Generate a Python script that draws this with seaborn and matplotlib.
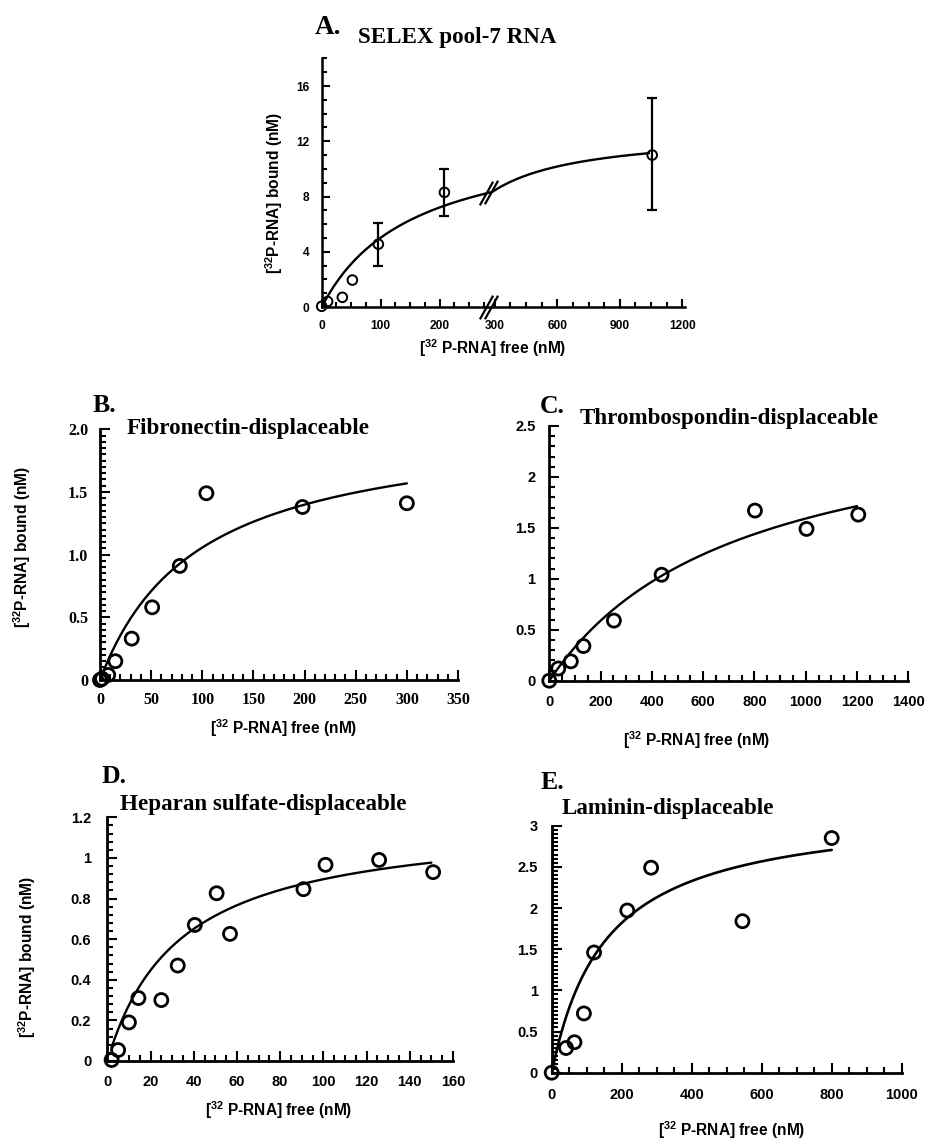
import numpy as np
import pandas as pd
import matplotlib
matplotlib.use("Agg")
import matplotlib.pyplot as plt
import seaborn as sns
from matplotlib.ticker import FixedLocator, MultipleLocator

# ---------------- data ----------------
# Panel A: SELEX pool-7 RNA
a_free = [0, 10, 35, 52, 96, 208, 1055]
a_bound = [0.05, 0.4, 0.7, 1.95, 4.55, 8.3, 11.0]
a_err_free = [96, 208, 1055]
a_err_center = [4.55, 8.3, 11.0]
a_err_low = [3.0, 6.6, 7.0]
a_err_high = [6.1, 10.0, 15.1]
a_bmax, a_kd, a_fit_range = 12.8, 155.0, (0, 1040)
a_xticks = [0, 100, 200, 300, 600, 900, 1200]
a_yticks = [0, 4, 8, 12, 16]

# Panel B: Fibronectin-displaceable
b_free = [0, 2, 8, 15, 31, 51, 78, 104, 198, 300]
b_bound = [0.0, 0.01, 0.04, 0.15, 0.33, 0.58, 0.91, 1.49, 1.38, 1.41]
b_bmax, b_kd, b_fit_range = 2.07, 95.9, (3, 300)
b_xticks = [0, 50, 100, 150, 200, 250, 300, 350]
b_yticks = [0, 0.5, 1.0, 1.5, 2.0]
b_ylabels = ["0", "0.5", "1.0", "1.5", "2.0"]

# Panel C: Thrombospondin-displaceable
c_free = [0, 35, 84, 133, 252, 438, 802, 1003, 1205]
c_bound = [0.0, 0.12, 0.19, 0.34, 0.59, 1.04, 1.67, 1.49, 1.63]
c_bmax, c_kd, c_fit_range = 2.77, 740.0, (0, 1200)
c_xticks = [0, 200, 400, 600, 800, 1000, 1200, 1400]
c_yticks = [0, 0.5, 1, 1.5, 2, 2.5]
c_ylabels = ["0", "0.5", "1", "1.5", "2", "2.5"]

# Panel D: Heparan sulfate-displaceable
d_free = [2, 5, 10, 14.4, 25, 32.6, 40.5, 50.6, 56.8, 90.8, 101, 125.8, 150.8]
d_bound = [0.005, 0.054, 0.19, 0.31, 0.30, 0.47, 0.67, 0.826, 0.626, 0.846, 0.966, 0.99, 0.93]
d_bmax, d_kd, d_fit_range = 1.195, 33.5, (2, 150)
d_xticks = [0, 20, 40, 60, 80, 100, 120, 140, 160]
d_yticks = [0, 0.2, 0.4, 0.6, 0.8, 1.0, 1.2]
d_ylabels = ["0", "0.2", "0.4", "0.6", "0.8", "1", "1.2"]

# Panel E: Laminin-displaceable
e_free = [0, 41, 65, 92, 121, 216, 284, 545, 800]
e_bound = [0.0, 0.30, 0.37, 0.72, 1.46, 1.97, 2.49, 1.84, 2.85]
e_bmax, e_kd, e_fit_range = 3.23, 155.0, (5, 800)
e_xticks = [0, 200, 400, 600, 800, 1000]
e_yticks = [0, 0.5, 1, 1.5, 2, 2.5, 3]
e_ylabels = ["0", "0.5", "1", "1.5", "2", "2.5", "3"]

titles = ["SELEX pool-7 RNA", "Fibronectin-displaceable", "Thrombospondin-displaceable",
          "Heparan sulfate-displaceable", "Laminin-displaceable"]
letters = ["A.", "B.", "C.", "D.", "E."]
xlab = r"[$^{32}$ P-RNA] free (nM)"
ylab = r"[$^{32}$P-RNA] bound (nM)"

# ---------------- style ----------------
sns.set_theme(style="ticks")
plt.rcParams.update({
    "font.family": ["Liberation Sans", "DejaVu Sans"],
    "font.weight": "bold",
    "axes.labelweight": "bold",
    "mathtext.fontset": "custom",
    "mathtext.rm": "Liberation Sans:bold",
    "mathtext.it": "Liberation Sans:bold",
    "mathtext.bf": "Liberation Sans:bold",
    "mathtext.default": "rm",
    "axes.edgecolor": "black",
    "axes.labelcolor": "black",
    "text.color": "black",
    "xtick.color": "black",
    "ytick.color": "black",
})

W, H = 927, 1142
fig = plt.figure(figsize=(W / 100, H / 100), dpi=100)


def add_axes_px(left, right, top, bottom):
    return fig.add_axes([left / W, 1 - bottom / H, (right - left) / W, (bottom - top) / H])


def hyperbola(bmax, kd, rng, n=200):
    x = np.linspace(rng[0], rng[1], n)
    return x, bmax * x / (kd + x)


def style(ax, lw=2.0, pad=9, majlen=7, minlen=4):
    for s in ["top", "right"]:
        ax.spines[s].set_visible(False)
    for s in ["left", "bottom"]:
        ax.spines[s].set_linewidth(lw)
        ax.spines[s].set_color("black")
    ax.tick_params(which="both", direction="in", width=1.5, color="black",
                   top=False, right=False, left=True, bottom=True)
    ax.tick_params(which="major", length=majlen, pad=pad)
    ax.tick_params(which="minor", length=minlen)


def draw_panel(ax, fx, fy, fit, ms, mlw, clw=1.7):
    cx, cy = fit
    sns.lineplot(x=cx, y=cy, ax=ax, color="black", lw=clw, sort=False)
    sns.scatterplot(x=fx, y=fy, ax=ax, marker="o", s=ms, facecolors="none",
                    edgecolor="black", linewidth=mlw, clip_on=False, zorder=5)


def put_titles(ax, i, lx, ly, tx, ty, lsize=18.5):
    ax.text(lx, ly, letters[i], transform=ax.transAxes, family="Liberation Serif",
            weight="bold", fontsize=lsize, ha="left", va="baseline")
    ax.text(tx, ty, titles[i], transform=ax.transAxes, family="Liberation Serif",
            weight="bold", fontsize=16.6, ha="left", va="baseline")


def set_labels(ax, xl_pos, yl_pos=None, size=11.2):
    ax.set_xlabel(xlab, fontsize=size, fontweight="bold", va="center", ha="center")
    ax.xaxis.set_label_coords(*xl_pos)
    if yl_pos is not None:
        ax.set_ylabel(ylab, fontsize=size, fontweight="bold", va="center", ha="center")
        ax.yaxis.set_label_coords(*yl_pos)
    else:
        ax.set_ylabel("")


# ---------------- Panel A (broken x axis) ----------------
BRK, K = 289.0, 0.354


def fwd(x):
    x = np.asarray(x, float)
    return np.where(x <= BRK, x, BRK + (x - BRK) * K)


def inv(u):
    u = np.asarray(u, float)
    return np.where(u <= BRK, u, BRK + (u - BRK) / K)


axA = add_axes_px(321.7, 685, 58.4, 307)
axA.set_xscale("function", functions=(fwd, inv))
draw_panel(axA, a_free, a_bound, hyperbola(a_bmax, a_kd, a_fit_range, 400), 48, 1.4)
axA.errorbar(a_err_free, a_err_center,
             yerr=[np.subtract(a_err_center, a_err_low), np.subtract(a_err_high, a_err_center)],
             fmt="none", ecolor="black", elinewidth=1.6, capsize=3.5, capthick=1.6, zorder=4)
axA.set_xlim(0, 1212)
axA.set_ylim(0, 18)
style(axA, lw=1.8, pad=9, majlen=6, minlen=3.5)
axA.set_xticks(a_xticks, [str(t) for t in a_xticks], fontsize=8.6, fontweight="bold")
axA.xaxis.set_minor_locator(FixedLocator([25, 50, 75, 125, 150, 175, 225, 250, 275,
                                          375, 450, 525, 675, 750, 825, 975, 1050, 1125]))
axA.set_yticks(a_yticks, [str(t) for t in a_yticks], fontsize=8.6, fontweight="bold")
axA.yaxis.set_minor_locator(MultipleLocator(1))
# break marks on the axis and on the curve
brk_marker = [(-0.28, -0.5), (0.28, 0.5)]
for bx in (279, 287):
    axA.plot([bx], [0], ls="none", marker=brk_marker, ms=17, mec="black", mew=1.6,
             clip_on=False, zorder=6)
    axA.plot([bx], [a_bmax * bx / (a_kd + bx)], ls="none", marker=brk_marker, ms=17,
             mec="black", mew=1.6, clip_on=False, zorder=6)
set_labels(axA, (0.4715, -0.165), (-0.131, 0.458))
put_titles(axA, 0, -0.018, 1.100, 0.100, 1.060, lsize=19.5)

# ---------------- Panel B ----------------
MS, MLW = 88, 2.0
axB = add_axes_px(100, 458, 429.3, 680)
draw_panel(axB, b_free, b_bound, hyperbola(b_bmax, b_kd, b_fit_range), MS, MLW)
axB.set_xlim(0, 350)
axB.set_ylim(0, 2.0)
style(axB, pad=8.5)
axB.set_xticks(b_xticks, [str(t) for t in b_xticks], fontsize=11.5, fontweight="bold",
               fontfamily="Liberation Serif")
axB.xaxis.set_minor_locator(MultipleLocator(10))
axB.set_yticks(b_yticks, b_ylabels, fontsize=11.5, fontweight="bold", fontfamily="Liberation Serif")
axB.yaxis.set_minor_locator(MultipleLocator(0.05))
set_labels(axB, (0.514, -0.191), (-0.218, 0.53))
put_titles(axB, 1, -0.02, 1.069, 0.075, 0.981)

# ---------------- Panel C ----------------
axC = add_axes_px(549.3, 908.3, 426, 680.7)
draw_panel(axC, c_free, c_bound, hyperbola(c_bmax, c_kd, c_fit_range), MS, MLW)
axC.set_xlim(0, 1400)
axC.set_ylim(0, 2.5)
style(axC, pad=10)
axC.set_xticks(c_xticks, [str(t) for t in c_xticks], fontsize=10.5, fontweight="bold")
axC.xaxis.set_minor_locator(MultipleLocator(50))
axC.set_yticks(c_yticks, c_ylabels, fontsize=10.5, fontweight="bold")
axC.yaxis.set_minor_locator(MultipleLocator(0.1))
set_labels(axC, (0.411, -0.233))
put_titles(axC, 2, -0.026, 1.050, 0.0855, 1.007)

# ---------------- Panel D ----------------
axD = add_axes_px(107.3, 453, 817.3, 1061)
draw_panel(axD, d_free, d_bound, hyperbola(d_bmax, d_kd, d_fit_range), MS, MLW)
axD.set_xlim(0, 160)
axD.set_ylim(0, 1.2)
style(axD, pad=10)
axD.set_xticks(d_xticks, [str(t) for t in d_xticks], fontsize=10.5, fontweight="bold")
axD.xaxis.set_minor_locator(MultipleLocator(5))
axD.set_yticks(d_yticks, d_ylabels, fontsize=10.5, fontweight="bold")
axD.yaxis.set_minor_locator(MultipleLocator(0.04))
axD.tick_params(axis="y", which="major", pad=11.5)
set_labels(axD, (0.497, -0.201), (-0.232, 0.427))
put_titles(axD, 3, -0.016, 1.142, 0.037, 1.030)

# ---------------- Panel E ----------------
axE = add_axes_px(551.7, 901.7, 825.7, 1072.7)
draw_panel(axE, e_free, e_bound, hyperbola(e_bmax, e_kd, e_fit_range), MS, MLW, clw=1.9)
axE.set_xlim(0, 1000)
axE.set_ylim(0, 3)
style(axE, pad=10)
axE.set_xticks(e_xticks, [str(t) for t in e_xticks], fontsize=10.5, fontweight="bold")
axE.xaxis.set_minor_locator(MultipleLocator(50))
axE.set_yticks(e_yticks, e_ylabels, fontsize=10.5, fontweight="bold")
axE.yaxis.set_minor_locator(MultipleLocator(0.05))
axE.tick_params(axis="x", which="major", pad=11)
set_labels(axE, (0.515, -0.232))
put_titles(axE, 4, -0.033, 1.147, 0.027, 1.046)

fig.savefig("out.png", dpi=100, facecolor="white")
